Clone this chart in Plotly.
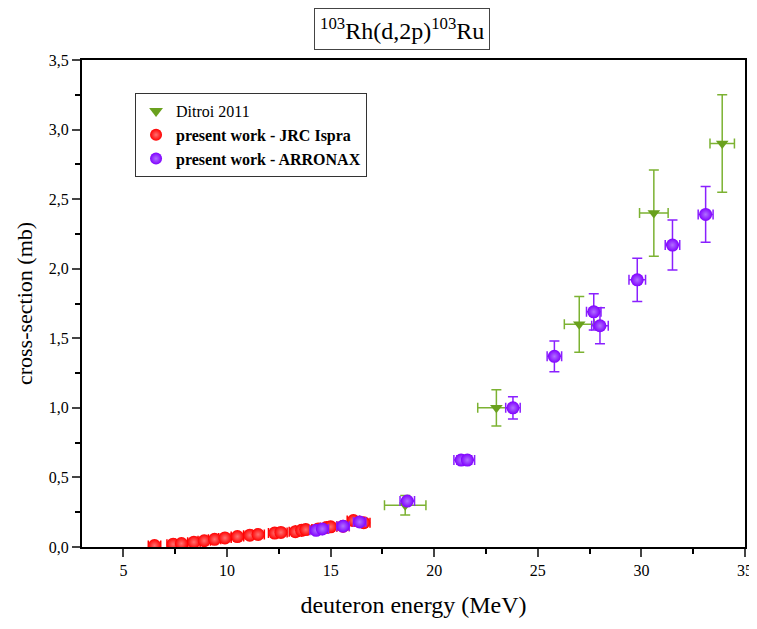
import plotly.graph_objects as go

# present work - JRC Ispra
jrc_e = [6.5, 7.4, 7.8, 8.4, 8.9, 9.4, 9.9, 10.5, 11.1, 11.5, 12.3, 12.6, 13.3, 13.6, 13.8, 14.4, 14.8, 15.0, 15.6, 16.1, 16.6]
jrc_cs = [0.01, 0.02, 0.025, 0.035, 0.045, 0.055, 0.065, 0.075, 0.085, 0.09, 0.10, 0.105, 0.11, 0.12, 0.125, 0.13, 0.14, 0.145, 0.15, 0.19, 0.175]
jrc_de = [0.3] * len(jrc_e)
jrc_dcs = [0.01] * len(jrc_e)

# present work - ARRONAX
arx_e = [14.3, 14.6, 15.6, 16.4, 18.7, 21.3, 21.6, 23.8, 25.8, 27.7, 28.0, 29.8, 31.5, 33.1]
arx_cs = [0.12, 0.13, 0.15, 0.18, 0.33, 0.625, 0.625, 1.0, 1.37, 1.69, 1.59, 1.92, 2.17, 2.39]
arx_de = [0.3, 0.3, 0.3, 0.3, 0.35, 0.35, 0.35, 0.35, 0.35, 0.35, 0.4, 0.4, 0.35, 0.36]
arx_dcs = [0.01, 0.01, 0.01, 0.015, 0.02, 0.03, 0.03, 0.08, 0.11, 0.13, 0.13, 0.155, 0.18, 0.2]

# Ditroi 2011
dit_e = [18.6, 23.0, 27.0, 30.6, 33.9]
dit_cs = [0.30, 1.00, 1.60, 2.40, 2.90]
dit_de = [1.0, 0.9, 0.72, 0.69, 0.59]
dit_dcs = [0.07, 0.13, 0.2, 0.31, 0.35]

fig = go.Figure()

fig.add_trace(go.Scatter(
    x=dit_e, y=dit_cs, mode='markers', name='Ditroi 2011',
    marker=dict(symbol='triangle-down', size=11, color='#6aa11e'),
    error_x=dict(type='data', array=dit_de, color='#7cb232', thickness=1.5, width=5),
    error_y=dict(type='data', array=dit_dcs, color='#7cb232', thickness=1.5, width=5)))

fig.add_trace(go.Scatter(
    x=jrc_e, y=jrc_cs, mode='markers', name='<b>present work - JRC Ispra</b>',
    marker=dict(symbol='circle', size=13, color='#ff0000', line=dict(width=0),
                gradient=dict(type='radial', color='#ff7070')),
    error_x=dict(type='data', array=jrc_de, color='#ff0000', thickness=1.5, width=5),
    error_y=dict(type='data', array=jrc_dcs, color='#ff0000', thickness=1.5, width=5)))

fig.add_trace(go.Scatter(
    x=arx_e, y=arx_cs, mode='markers', name='<b>present work - ARRONAX</b>',
    marker=dict(symbol='circle', size=13, color='#8000ff', line=dict(width=0),
                gradient=dict(type='radial', color='#b070ff')),
    error_x=dict(type='data', array=arx_de, color='#8a20ff', thickness=1.5, width=5),
    error_y=dict(type='data', array=arx_dcs, color='#8a20ff', thickness=1.5, width=5)))

fig.add_annotation(
    text='<sup>103</sup>Rh(d,2p)<sup>103</sup>Ru', xref='paper', yref='paper',
    x=0.482, y=1.02, xanchor='center', yanchor='bottom', showarrow=False,
    font=dict(size=24, color='black', family='Liberation Serif'),
    bordercolor='#444', borderwidth=1, borderpad=5, bgcolor='white')

fig.update_xaxes(
    range=[3, 35], dtick=5, tick0=0, ticks='outside', ticklen=8, tickwidth=2,
    showline=True, linewidth=2, linecolor='black', mirror=True, showgrid=False, zeroline=False,
    minor=dict(dtick=2.5, ticks='outside', ticklen=5, tickwidth=1.5, tickcolor='black'),
    title=dict(text='deuteron energy (MeV)', font=dict(size=24), standoff=18),
    tickfont=dict(size=16), automargin=False)

fig.update_yaxes(
    range=[0, 3.5], dtick=0.5, tickformat='.1f', ticks='outside', ticklen=8, tickwidth=2,
    showline=True, linewidth=2, linecolor='black', mirror=True, showgrid=False, zeroline=False,
    minor=dict(dtick=0.25, ticks='outside', ticklen=5, tickwidth=1.5, tickcolor='black'),
    title=dict(text='cross-section (mb)', font=dict(size=22), standoff=10),
    tickfont=dict(size=16), automargin=False)

fig.update_layout(
    width=749, height=621,
    margin=dict(l=74, r=12, t=52, b=82),
    paper_bgcolor='white', plot_bgcolor='white',
    separators=',.',
    font=dict(family='Liberation Serif', color='black'),
    showlegend=True,
    legend=dict(x=0.08, y=0.932, xanchor='left', yanchor='top',
                bordercolor='#333', borderwidth=1, bgcolor='white',
                font=dict(size=16), tracegroupgap=0, itemsizing='constant'))

fig.write_html("out.html")
